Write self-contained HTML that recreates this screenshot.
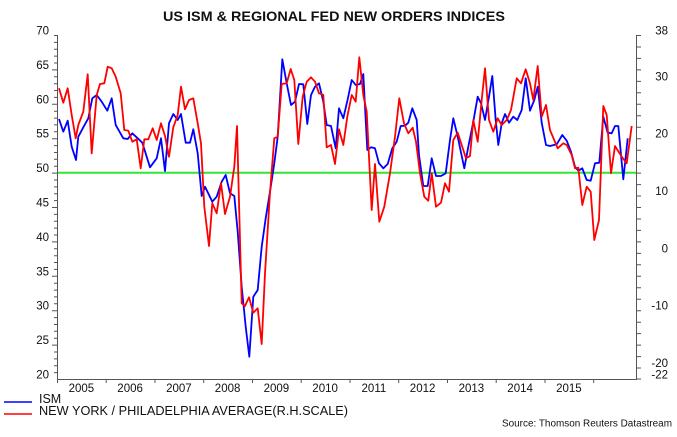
<!DOCTYPE html>
<html><head><meta charset="utf-8"><style>
html,body{margin:0;padding:0;background:#fff;}
svg{display:block;}
text{font-family:"Liberation Sans",Arial,sans-serif;fill:#111;}
</style></head><body>
<svg width="677" height="437" viewBox="0 0 677 437" xmlns="http://www.w3.org/2000/svg">
<rect width="677" height="437" fill="#fff"/>
<text x="334" y="21" font-size="14" font-weight="bold" text-anchor="middle" textLength="342" lengthAdjust="spacingAndGlyphs">US ISM &amp; REGIONAL FED NEW ORDERS INDICES</text>

<!-- green 50 line -->
<line x1="57" y1="172.7" x2="637" y2="172.7" stroke="#33e633" stroke-width="2"/>

<!-- axes -->
<g stroke="#555" stroke-width="1" fill="none">
<line x1="57.5" y1="35" x2="57.5" y2="379"/>
<line x1="57" y1="379.5" x2="637" y2="379.5"/>
<line x1="636.5" y1="35" x2="636.5" y2="379.5"/>
<path id="lt" d=""/>
</g>
<g stroke="#555" stroke-width="1" id="ticks"></g>

<!-- series -->
<polyline fill="none" stroke="#0000ff" stroke-width="1.8" stroke-linejoin="round" points="59,119 63.3,131.7 67.7,120.7 71.7,146.7 76,160 78.3,136.7 83.3,127.3 88.3,118.3 92.3,98.3 96.7,95 101.7,101.7 107.3,110.7 111.7,98.3 115.7,125 123.3,138.3 127.7,139 132.3,133.3 137.7,138.3 142.3,142.7 150,167.3 156.7,158.3 161,138.3 165,171 169,123.3 173.3,114 177.7,120 181,114 185.7,142.7 190,142.7 193.3,129.3 197.7,153.3 201.7,196 205,186.7 212.3,201.7 216.7,196.7 221.7,181.7 225.7,175 230,193.3 234.3,196 237.7,231.7 241.7,286.7 245.7,326.7 249.3,356.7 253.3,296.7 257.7,290 261.7,246.7 265.7,218.3 270,191.7 274.3,163.3 277.7,136.7 282.3,59.3 286.7,83.3 291,105 295,101.7 299,84 303.3,84.3 307.3,124 311,95 315,86.7 319,83.3 323.3,101.7 326.7,125 331,126 335.7,148.3 339,108.3 343.3,118.3 347.7,99.3 351.7,80 355.7,85 360,84 363.3,74 367.3,150 371,147.3 375,148.3 379,163.3 383.3,168.3 387.7,164 392.3,148.3 396.7,141.7 400.7,126 405,125.7 408.3,122.7 412.3,108.3 416.7,120 419,155 423.3,186 427.7,186 431.7,158.3 436,176 441,176 445.7,173.3 450,140 453.3,118.3 457.7,136.7 464.3,168.3 468.3,146.7 473.3,121.7 477.7,96.7 481,103.3 485,120 489,96.7 492.3,76 495.7,120 498.3,145 501.7,123.3 505,114 509,122.7 513.3,116.7 517.3,120 521.7,110 525.7,78.3 530,110.7 534.3,100 537.7,86.7 541.7,122.7 546,145 550,146 556.7,144.3 562.3,135 566.7,140.7 571,151.7 575,166.7 578.3,170.7 582.3,168.3 586.7,180 590.7,180.7 595,163.3 599.3,162.7 603.3,116.7 607.7,132.7 611.7,133.3 615,126 618.3,126 623.3,179.3 627.7,138.3"/>
<polyline fill="none" stroke="#ff0000" stroke-width="1.8" stroke-linejoin="round" points="59,88.3 63.3,102.7 67.7,88.3 71.7,115 75.7,138.3 78.3,125 83.3,111.7 87.7,74.3 91.7,153.3 96.7,95 100,84 104.3,83.3 107.7,66.7 111.7,68.3 115.7,76.7 120.7,93.3 124.3,130 128.3,130.7 132.3,141.7 136.7,139.3 140.7,168.3 144.3,139.3 148.3,139.3 152.7,128.3 156.7,140 161,123.3 165,136 169,156.7 173.3,127.3 177.7,115 181,86.7 185,109.3 189,100 193.3,98.3 197.7,123.3 201,143.3 204.3,206.7 209,246 212.3,203.3 216.7,213.3 221,183.3 225,214 230,196.7 234.3,166.7 237,126 240,240 241.7,303.3 245,306 249,297.3 253.3,312.7 257.7,308.3 261.7,344 265,273.3 270,192.7 274.3,138.3 277.7,136.7 281.7,84 286.7,83.3 290.7,69 294.3,80 298.3,144 302.7,96.7 306.7,81.7 311,77.3 315,81.7 319,93.3 323.3,95 326.7,147.3 331,145 335,164 339,129.3 343.3,145 347.3,116.7 351.7,95 355.7,101.7 359.3,57.3 363.3,95 366.7,111.7 371.7,210 375,164 379.3,221.7 384.3,206.7 390,173.3 395,136.7 399.3,98.3 404,123.3 408.3,133.3 412.7,127.7 416,141.7 420,173.3 424.3,196.7 428.3,200.7 431.7,173.3 436,206.7 441,202.7 445,183.3 449,191.7 453.3,140 457.7,132.7 461.7,145 466,158.3 470,156 473.3,120 477.7,141.7 481.7,100 485,68.3 489,120 493.3,131.7 497.7,118.3 501.7,125 506.7,120 511,110 516.7,78.3 521,83.3 525.7,69.3 530,83.3 533.3,100 537.7,66 541.7,116.7 546,105 550,130 557.7,148.3 563.3,143.3 566.7,145 571.7,155 575,168.3 578.3,167.7 582.3,205 586.7,186.7 590.7,191.7 594.3,240 599,220 603.3,106 606.7,115 611,173.3 615,146 621.7,156.7 626.7,163.3 631.7,126"/>

<!-- left labels -->
<g font-size="11.5" text-anchor="end">
<text x="49" y="34.5">70</text>
<text x="49" y="68.9">65</text>
<text x="49" y="103.3">60</text>
<text x="49" y="137.7">55</text>
<text x="49" y="172.1">50</text>
<text x="49" y="206.5">45</text>
<text x="49" y="240.9">40</text>
<text x="49" y="275.3">35</text>
<text x="49" y="309.7">30</text>
<text x="49" y="344.1">25</text>
<text x="49" y="378.5">20</text>
</g>
<!-- right labels -->
<g font-size="11.5" text-anchor="end">
<text x="668" y="34.5">38</text>
<text x="668" y="80.4">30</text>
<text x="668" y="137.7">20</text>
<text x="668" y="195.1">10</text>
<text x="668" y="252.4">0</text>
<text x="668" y="309.7">-10</text>
<text x="668" y="367">-20</text>
<text x="668" y="378.5">-22</text>
</g>
<!-- year labels -->
<g font-size="11.5" text-anchor="middle">
<text x="81.4" y="392">2005</text>
<text x="130.1" y="392">2006</text>
<text x="178.9" y="392">2007</text>
<text x="227.6" y="392">2008</text>
<text x="276.4" y="392">2009</text>
<text x="325.1" y="392">2010</text>
<text x="373.9" y="392">2011</text>
<text x="422.6" y="392">2012</text>
<text x="471.4" y="392">2013</text>
<text x="520.1" y="392">2014</text>
<text x="568.9" y="392">2015</text>
</g>

<!-- legend -->
<line x1="4" y1="402" x2="32" y2="402" stroke="#0000ff" stroke-width="1.5"/>
<text x="39" y="403" font-size="12.5">ISM</text>
<line x1="4" y1="414" x2="32" y2="414" stroke="#ff0000" stroke-width="1.5"/>
<text x="39" y="415" font-size="12.5" textLength="309" lengthAdjust="spacingAndGlyphs">NEW YORK / PHILADELPHIA AVERAGE(R.H.SCALE)</text>
<text x="502" y="426.5" font-size="10" textLength="170" lengthAdjust="spacingAndGlyphs">Source: Thomson Reuters Datastream</text>

<!-- ticks generated statically -->
<g stroke="#555" stroke-width="1">
<path d="M54,35.5h3M54,42.4h3M54,49.3h3M54,56.1h3M54,63h3M52,69.9h5M54,76.8h3M54,83.7h3M54,90.5h3M54,97.4h3M52,104.3h5M54,111.2h3M54,118.1h3M54,124.9h3M54,131.8h3M52,138.7h5M54,145.6h3M54,152.5h3M54,159.3h3M54,166.2h3M52,173.1h5M54,180h3M54,186.9h3M54,193.7h3M54,200.6h3M52,207.5h5M54,214.4h3M54,221.3h3M54,228.1h3M54,235h3M52,241.9h5M54,248.8h3M54,255.7h3M54,262.5h3M54,269.4h3M52,276.3h5M54,283.2h3M54,290.1h3M54,296.9h3M54,303.8h3M52,310.7h5M54,317.6h3M54,324.5h3M54,331.3h3M54,338.2h3M52,345.1h5M54,352h3M54,358.9h3M54,365.7h3M54,372.6h3"/>
<path d="M637,35.5h4M637,47h4M637,58.4h4M637,69.9h4M637,81.4h4M637,92.8h4M637,104.3h4M637,115.8h4M637,127.2h4M637,138.7h4M637,150.2h4M637,161.6h4M637,173.1h4M637,184.6h4M637,196h4M637,207.5h4M637,219h4M637,230.4h4M637,241.9h4M637,253.4h4M637,264.8h4M637,276.3h4M637,287.8h4M637,299.2h4M637,310.7h4M637,322.2h4M637,333.6h4M637,345.1h4M637,356.6h4M637,368h4M637,379h4"/>
<path d="M57.5,379v4M106.2,379v4M155,379v4M203.7,379v4M252.5,379v4M301.2,379v4M350,379v4M398.7,379v4M447.5,379v4M496.2,379v4M545,379v4M593.7,379v4"/>
</g>
</svg>
</body></html>
